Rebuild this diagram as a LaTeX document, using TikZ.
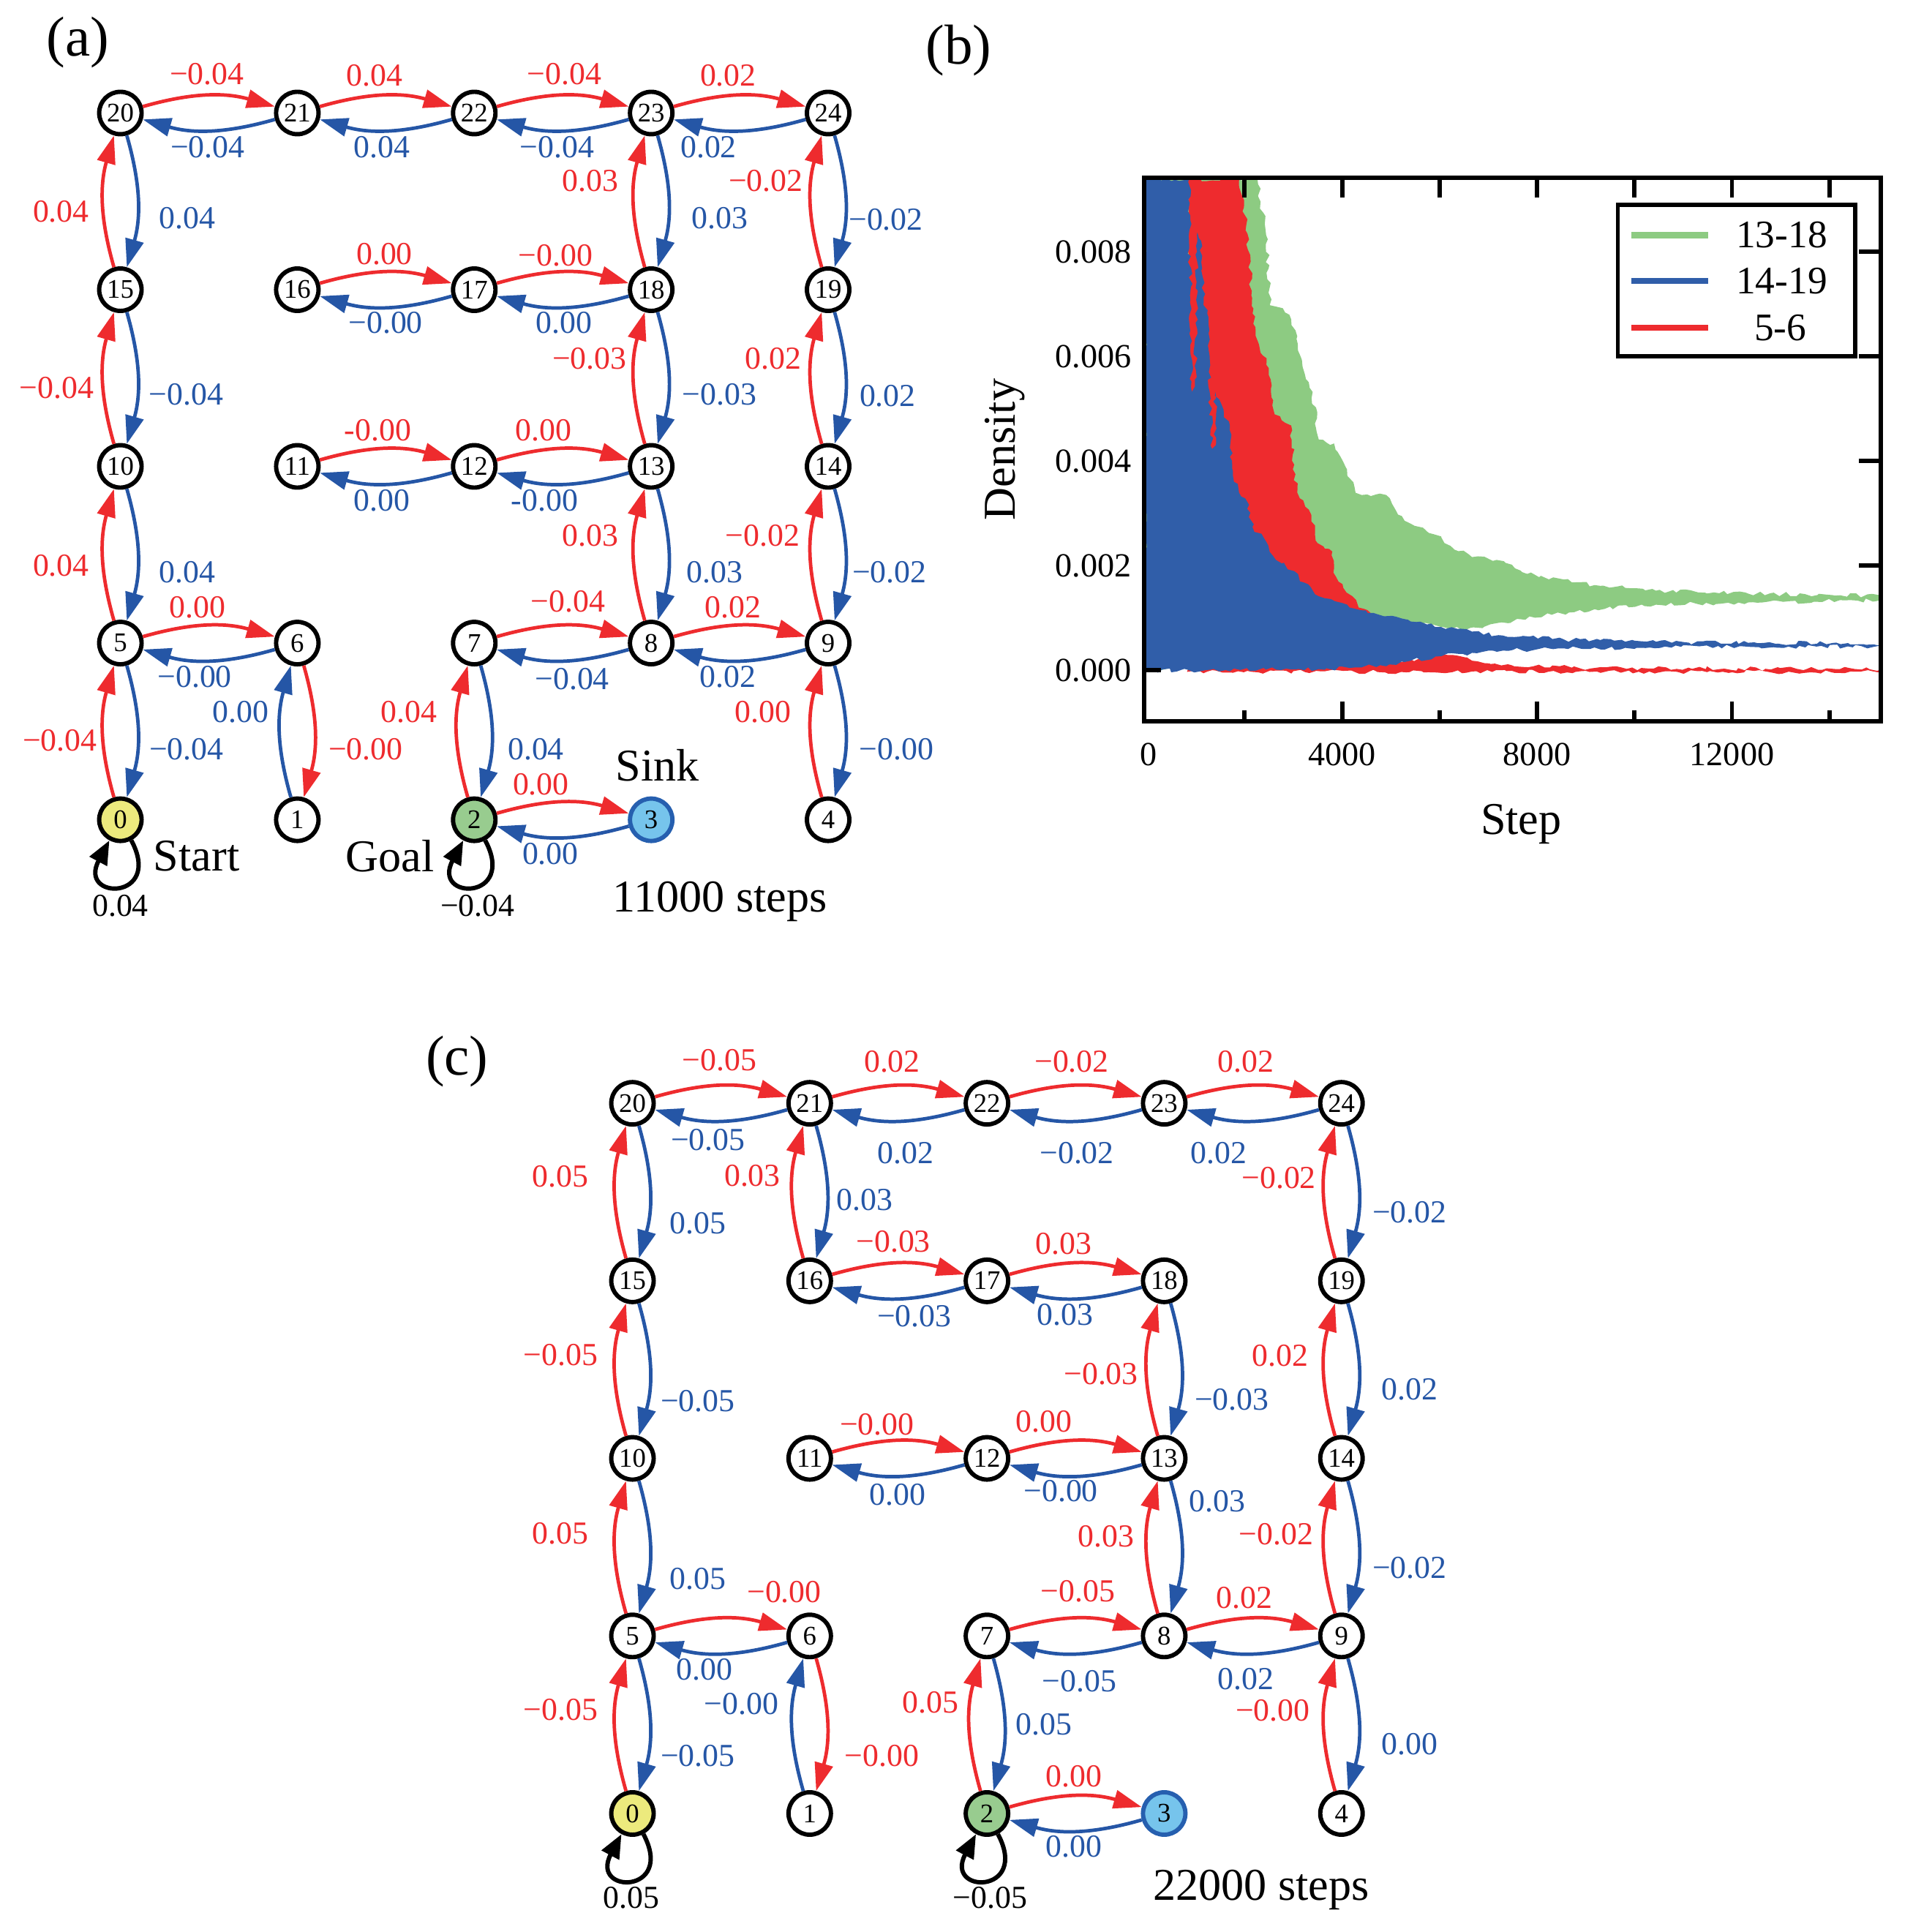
\documentclass[tikz,border=0pt]{standalone}
\usepackage{fontspec}
\setmainfont{Liberation Serif}
\usetikzlibrary{arrows.meta,decorations.pathmorphing}
\definecolor{ered}{RGB}{238,43,46}
\definecolor{eblue}{RGB}{37,86,166}
\definecolor{nyellow}{RGB}{236,234,125}
\definecolor{ngreen}{RGB}{152,204,143}
\definecolor{sfill}{RGB}{118,196,236}
\definecolor{sline}{RGB}{38,95,175}
\definecolor{pgreen}{RGB}{141,203,130}
\definecolor{pblue}{RGB}{48,94,169}
\definecolor{pred}{RGB}{238,43,46}
\tikzset{
 vtx/.style={circle, draw=black, line width=1pt, minimum size=0.344cm, inner sep=0pt, fill=white, font=\fontsize{6.2}{7}\selectfont},
 v0/.style={fill=nyellow},
 v2/.style={fill=ngreen},
 v3/.style={fill=sfill, draw=sline},
 redarr/.style={draw=ered, line width=0.8pt, -{Triangle[length=6.5pt,width=4.2pt]}, bend left=16},
 bluearr/.style={draw=eblue, line width=0.8pt, -{Triangle[length=6.5pt,width=4.2pt]}, bend left=16},
 rlab/.style={text=ered, inner sep=0pt, font=\fontsize{7.4}{8}\selectfont},
 blab/.style={text=eblue, inner sep=0pt, font=\fontsize{7.4}{8}\selectfont},
 klab/.style={text=black, inner sep=0pt, font=\fontsize{7.4}{8}\selectfont},
 bigtxt/.style={inner sep=0pt, font=\fontsize{10.5}{12}\selectfont},
 paneltxt/.style={inner sep=0pt, font=\fontsize{13}{15}\selectfont},
 selfloop/.style={draw=black, line width=1pt, -{Triangle[length=5.5pt,width=4.4pt]}, out=-62, in=-118, looseness=8, min distance=15.5pt},
 ticklab/.style={inner sep=0pt, font=\fontsize{7.8}{9}\selectfont},
 legtxt/.style={inner sep=0pt, font=\fontsize{9}{10}\selectfont},
 noisy/.style={decorate, decoration={random steps, segment length=1.2pt, amplitude=0.5pt}},
 frame/.style={draw=black, line width=1pt},
}
\newcommand\epair[6]{%
  \draw[redarr] (#1) to (#2);
  \draw[bluearr] (#2) to (#1);
  \node[rlab] (r-#1-#2) at (#4) {#3};
  \node[blab] (b-#2-#1) at (#6) {#5};}
\begin{document}
\begin{tikzpicture}[x=0.01cm, y=-0.01cm]
\useasboundingbox (0,0) rectangle (1552,1568);
\pgfmathsetseed{7}
% ---------------- panel (a) ----------------
\node[paneltxt] (lab-a) at (63,34.5) {(a)};
\foreach \i in {0,...,24}{
  \pgfmathtruncatemacro\rr{int(\i/5)}
  \pgfmathtruncatemacro\cc{mod(\i,5)}
  \ifcase\i \def\vs{v0}\or \def\vs{vtx}\or \def\vs{v2}\or \def\vs{v3}\else \def\vs{vtx}\fi
  \node[vtx,\vs] (a\i) at ({97.7+143.6*\cc},{665.3-143.4*\rr}) {\i};
}
\epair{a20}{a21}{−0.04}{168,60}{−0.04}{168.6,119.4}
\epair{a21}{a22}{0.04}{304,61.5}{0.04}{310,119.4}
\epair{a22}{a23}{−0.04}{458,60}{−0.04}{452,119.4}
\epair{a23}{a24}{0.02}{591,61.5}{0.02}{575,119.4}
\epair{a15}{a20}{0.04}{49.5,171.5}{0.04}{152,177}
\epair{a18}{a23}{0.03}{479,147}{0.03}{584,177}
\epair{a19}{a24}{−0.02}{621.6,147}{−0.02}{719,178.4}
\epair{a16}{a17}{0.00}{312,206}{−0.00}{313,262}
\epair{a17}{a18}{−0.00}{451,207.5}{0.00}{457.6,262}
\epair{a10}{a15}{−0.04}{46,315}{−0.04}{151,320.4}
\epair{a13}{a18}{−0.03}{478.5,291}{−0.03}{584,320.4}
\epair{a14}{a19}{0.02}{627.5,291}{0.02}{720.4,321.6}
\epair{a11}{a12}{-0.00}{306.7,349.5}{0.00}{310,406.4}
\epair{a12}{a13}{0.00}{441,349.5}{-0.00}{442,406.4}
\epair{a5}{a10}{0.04}{49.5,459.2}{0.04}{152,464.4}
\epair{a8}{a13}{0.03}{479,434.7}{0.03}{580,464.4}
\epair{a9}{a14}{−0.02}{619,434.7}{−0.02}{721.8,464.7}
\epair{a5}{a6}{0.00}{160.4,492.7}{−0.00}{158,549.3}
\epair{a7}{a8}{−0.04}{461,488}{−0.04}{464.4,551}
\epair{a8}{a9}{0.02}{595,492.7}{0.02}{590.7,549.3}
\epair{a0}{a5}{−0.04}{48.6,600.8}{−0.04}{151.3,608}
\epair{a6}{a1}{−0.00}{296.7,608}{0.00}{195.4,577.7}
\epair{a2}{a7}{0.04}{332,577.7}{0.04}{434.9,608}
\epair{a4}{a9}{0.00}{619.4,577.7}{−0.00}{727.7,607.9}
\epair{a2}{a3}{0.00}{439,636.4}{0.00}{446.7,693}
\draw[selfloop] (a0) to (a0);
\draw[selfloop] (a2) to (a2);
\node[klab] (la0) at (97.7,735) {0.04};
\node[klab] (la2) at (387.6,735) {−0.04};
\node[bigtxt] (start-a) at (159.5,694.8) {Start};
\node[bigtxt] (goal-a) at (316.7,694.8) {Goal};
\node[bigtxt] (sink-a) at (533.5,621.4) {Sink};
\node[bigtxt, anchor=base] (steps-a) at (584.4,740) {11000 steps};
% ---------------- panel (b) ----------------
\node[paneltxt] (lab-b) at (778,41) {(b)};
\foreach \yy in {459,374.1,289.2,204.3} \draw[frame] (928.5,\yy) -- ++(16,0);
\begin{scope}
  \clip (929,145) rectangle (1526,585);
  \begin{scope}[shift={(771.8,0)}, xscale=0.4975, yscale=0.4544]
  \fill[pgreen, noisy] (316,320) -- (500,320) -- (505,360) -- (512,400) -- (518,480) -- (520,545) -- (532,548) -- (545,558) -- (552,562) -- (562,590) -- (575,660) -- (590,700) -- (600,785) -- (612,790) -- (625,792) -- (640,825) -- (660,880) -- (685,886) -- (710,884) -- (725,910) -- (740,930) -- (760,940) -- (780,952) -- (800,960) -- (815,975) -- (850,995) -- (890,1000) -- (920,1015) -- (940,1025) -- (1000,1035) -- (1050,1045) -- (1100,1050) -- (1150,1055) -- (1300,1060) -- (1520,1064) -- (1520,1072) -- (1300,1076) -- (1150,1080) -- (1050,1088) -- (980,1098) -- (930,1106) -- (880,1115) -- (840,1125) -- (800,1120) -- (760,1112) -- (700,1105) -- (650,1110) -- (600,1150) -- (316,1198) -- cycle;
  \fill[pred, noisy] (385,320) -- (470,320) -- (478,370) -- (482,400) -- (488,470) -- (492,560) -- (497,600) -- (505,630) -- (515,640) -- (522,700) -- (528,740) -- (545,755) -- (555,760) -- (560,830) -- (565,880) -- (578,905) -- (588,920) -- (598,970) -- (610,980) -- (622,985) -- (628,1030) -- (640,1050) -- (655,1065) -- (665,1085) -- (690,1100) -- (700,1130) -- (720,1180) -- (760,1178) -- (800,1168) -- (820,1170) -- (850,1180) -- (880,1186) -- (950,1190) -- (1050,1193) -- (1520,1195) -- (1520,1200) -- (385,1200) -- cycle;
  \fill[pblue, noisy] (316,320) -- (388,320) -- (393,700) -- (398,690) -- (402,415) -- (408,430) -- (412,545) -- (418,560) -- (422,700) -- (428,830) -- (432,700) -- (445,745) -- (455,760) -- (460,850) -- (470,880) -- (480,890) -- (495,950) -- (510,960) -- (530,1000) -- (560,1020) -- (575,1040) -- (600,1065) -- (620,1070) -- (650,1085) -- (680,1095) -- (720,1100) -- (750,1110) -- (800,1120) -- (850,1128) -- (900,1135) -- (1000,1142) -- (1100,1146) -- (1300,1148) -- (1520,1149) -- (1520,1155) -- (1300,1155) -- (1100,1157) -- (1000,1158) -- (900,1162) -- (850,1166) -- (800,1172) -- (750,1180) -- (700,1188) -- (650,1193) -- (600,1195) -- (316,1198) -- cycle;
  \end{scope}
\end{scope}
\draw[frame] (928.5,543.9) -- ++(14,0);
\draw[frame] (928.5,144.5) rectangle (1526.5,585.3);
\foreach \xx in {1089.2,1247.4,1405.6} {\draw[frame] (\xx,585.3) -- ++(0,-16); \draw[frame] (\xx,144.5) -- ++(0,16);}
\foreach \xx in {1010.1,1168.3,1326.5,1484.7} {\draw[frame] (\xx,585.3) -- ++(0,-9); \draw[frame] (\xx,144.5) -- ++(0,16);}
\foreach \yy in {459,374.1,289.2,204.3} \draw[frame] (1526.5,\yy) -- ++(-18,0);
\node[ticklab, anchor=east] (y0) at (919,543.9) {0.000};
\node[ticklab, anchor=east] (y2) at (919,459) {0.002};
\node[ticklab, anchor=east] (y4) at (919,374.1) {0.004};
\node[ticklab, anchor=east] (y6) at (919,289.2) {0.006};
\node[ticklab, anchor=east] (y8) at (919,204.3) {0.008};
\node[ticklab] (x0) at (932,612.5) {0};
\node[ticklab] (x4) at (1089.2,612.5) {4000};
\node[ticklab] (x8) at (1247.4,612.5) {8000};
\node[ticklab] (x12) at (1405.6,612.5) {12000};
\node[bigtxt, anchor=base, rotate=90] (ylab) at (824,364.8) {Density};
\node[bigtxt, anchor=base] (xlab) at (1234.5,677) {Step};
\draw[frame, fill=white] (1313,166) rectangle (1505.6,289);
\draw[pgreen, line width=1.4pt] (1324,190.8) -- (1386.2,190.8);
\draw[pblue, line width=1.4pt] (1324,228.1) -- (1386.2,228.1);
\draw[pred, line width=1.4pt] (1324,265.8) -- (1386.2,265.8);
\node[legtxt] (l1) at (1446,190.8) {13-18};
\node[legtxt] (l2) at (1446,228.1) {14-19};
\node[legtxt] (l3) at (1445,265.8) {5-6};
% ---------------- panel (c) ----------------
\node[paneltxt] (lab-c) at (371,861.7) {(c)};
\foreach \i in {0,...,24}{
  \pgfmathtruncatemacro\rr{int(\i/5)}
  \pgfmathtruncatemacro\cc{mod(\i,5)}
  \ifcase\i \def\vs{v0}\or \def\vs{vtx}\or \def\vs{v2}\or \def\vs{v3}\else \def\vs{vtx}\fi
  \node[vtx,\vs] (c\i) at ({513.3+143.85*\cc},{1471.8-144.1*\rr}) {\i};
}
\epair{c20}{c21}{−0.05}{584,860.4}{−0.05}{574.6,925.3}
\epair{c21}{c22}{0.02}{724,861.7}{0.02}{735,936}
\epair{c22}{c23}{−0.02}{869.8,861.7}{−0.02}{874,936}
\epair{c23}{c24}{0.02}{1011,861.7}{0.02}{989,936}
\epair{c15}{c20}{0.05}{454.7,955}{0.05}{566.3,993}
\epair{c16}{c21}{0.03}{610.6,954}{0.03}{701.8,973.9}
\epair{c19}{c24}{−0.02}{1037.9,955.8}{−0.02}{1144,984.2}
\epair{c16}{c17}{−0.03}{725,1007.5}{−0.03}{742,1068}
\epair{c17}{c18}{0.03}{863,1009.6}{0.03}{864.3,1067.2}
\epair{c10}{c15}{−0.05}{455,1099.5}{−0.05}{566.3,1136.9}
\epair{c13}{c18}{−0.03}{893.6,1114.9}{−0.03}{999.7,1136.1}
\epair{c14}{c19}{0.02}{1039,1100.3}{0.02}{1144,1127.6}
\epair{c11}{c12}{−0.00}{711.7,1156}{0.00}{728.3,1213}
\epair{c12}{c13}{0.00}{847.2,1153.9}{−0.00}{861,1210.3}
\epair{c5}{c10}{0.05}{454.7,1244.4}{0.05}{566.3,1281.6}
\epair{c8}{c13}{0.03}{897.5,1246.9}{0.03}{988,1218.3}
\epair{c9}{c14}{−0.02}{1035.7,1245}{−0.02}{1144,1272.3}
\epair{c5}{c6}{−0.00}{636.5,1292.2}{0.00}{571.9,1354.9}
\epair{c7}{c8}{−0.05}{874.8,1291.3}{−0.05}{875.9,1364.6}
\epair{c8}{c9}{0.02}{1009.7,1296.6}{0.02}{1011.3,1362.6}
\epair{c0}{c5}{−0.05}{455.2,1387.6}{−0.05}{566.3,1425.2}
\epair{c6}{c1}{−0.00}{715.6,1424.8}{−0.00}{601.7,1382.8}
\epair{c2}{c7}{0.05}{755.4,1381.6}{0.05}{847.2,1399.8}
\epair{c4}{c9}{−0.00}{1032.9,1388.4}{0.00}{1144,1415.5}
\epair{c2}{c3}{0.00}{871.5,1441.7}{0.00}{871.5,1498.5}
\draw[selfloop] (c0) to (c0);
\draw[selfloop] (c2) to (c2);
\node[klab] (lc0) at (512.2,1540) {0.05};
\node[klab] (lc2) at (803.5,1540) {−0.05};
\node[bigtxt, anchor=base] (steps-c) at (1023.5,1542.2) {22000 steps};
\end{tikzpicture}
\end{document}
